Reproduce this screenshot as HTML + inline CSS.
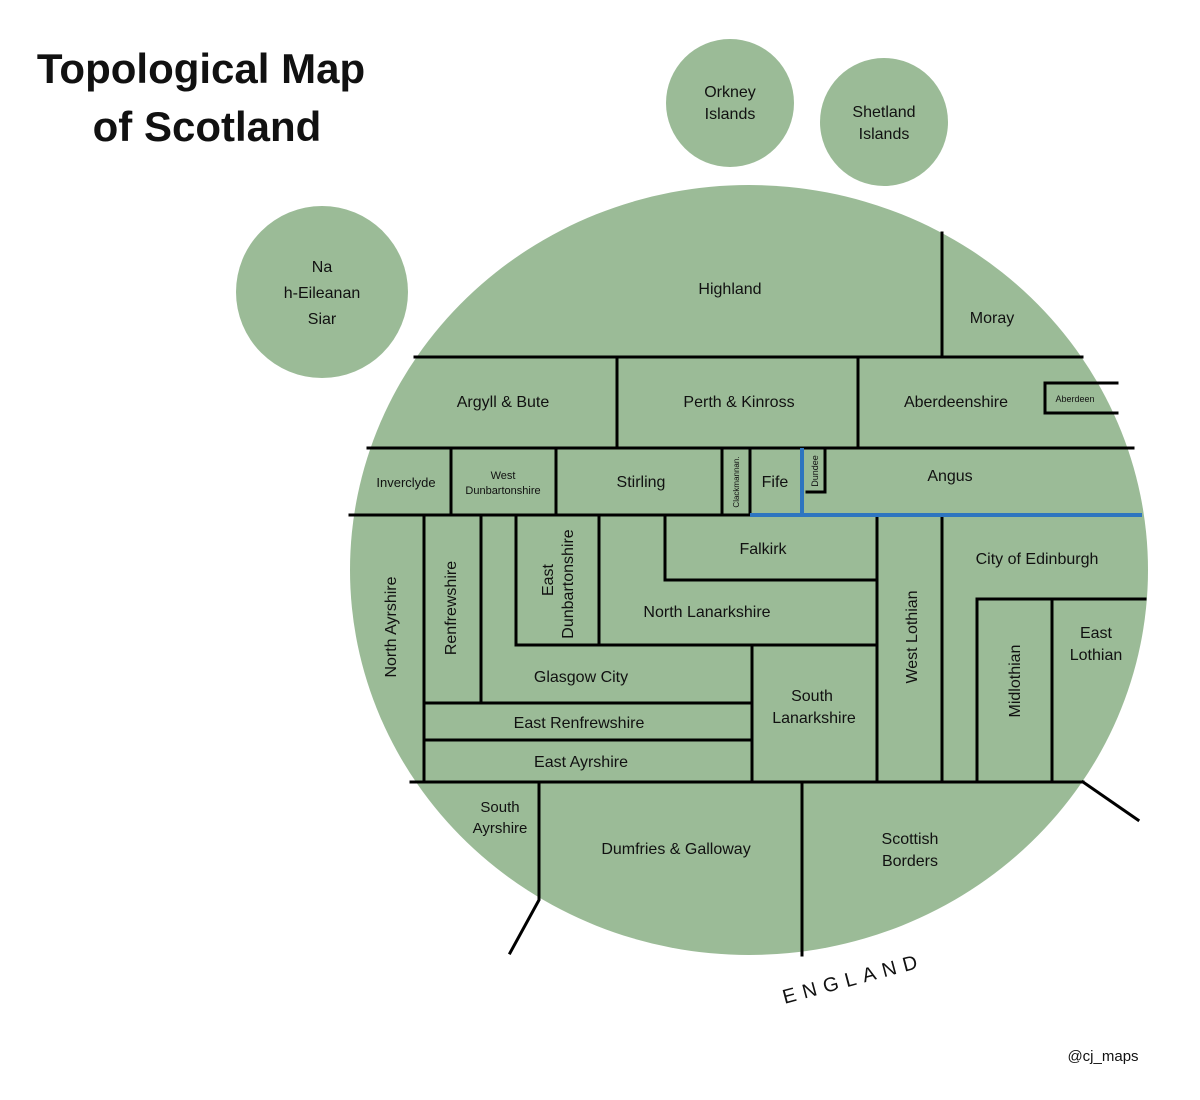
<!DOCTYPE html>
<html><head><meta charset="utf-8"><style>
html,body{margin:0;padding:0;background:#fff;}
svg{display:block;}
text{font-family:"Liberation Sans",sans-serif;fill:#111;}
</style></head><body>
<svg width="1200" height="1100" viewBox="0 0 1200 1100" xmlns="http://www.w3.org/2000/svg">
<text x="201" y="83" font-size="42" font-weight="bold" text-anchor="middle">Topological Map</text>
<text x="207" y="141" font-size="42" font-weight="bold" text-anchor="middle">of Scotland</text>

<g fill="#9bbb97">
<ellipse cx="749" cy="570" rx="399" ry="385"/>
<circle cx="322" cy="292" r="86"/>
<circle cx="730" cy="103" r="64"/>
<circle cx="884" cy="122" r="64"/>
</g>

<g stroke="#000" stroke-width="3" fill="none" stroke-linecap="square">
<line x1="415" y1="357" x2="1082" y2="357"/>
<line x1="942" y1="233" x2="942" y2="357"/>
<line x1="368" y1="448" x2="1133" y2="448"/>
<line x1="617" y1="357" x2="617" y2="448"/>
<line x1="858" y1="357" x2="858" y2="448"/>
<polyline points="1117,383 1045,383 1045,413 1117,413"/>
<line x1="350" y1="515" x2="750" y2="515"/>
<line x1="451" y1="448" x2="451" y2="515"/>
<line x1="556" y1="448" x2="556" y2="515"/>
<line x1="722" y1="448" x2="722" y2="515"/>
<line x1="750" y1="448" x2="750" y2="515"/>
<polyline points="807,492 825,492 825,450"/>
<line x1="424" y1="515" x2="424" y2="782"/>
<line x1="481" y1="515" x2="481" y2="703"/>
<polyline points="516,515 516,645 599,645 599,515"/>
<polyline points="665,515 665,580 877,580"/>
<line x1="877" y1="515" x2="877" y2="782"/>
<line x1="599" y1="645" x2="877" y2="645"/>
<line x1="752" y1="645" x2="752" y2="782"/>
<line x1="424" y1="703" x2="752" y2="703"/>
<line x1="424" y1="740" x2="752" y2="740"/>
<line x1="942" y1="515" x2="942" y2="782"/>
<polyline points="977,782 977,599 1145,599"/>
<line x1="1052" y1="599" x2="1052" y2="782"/>
<line x1="411" y1="782" x2="1083" y2="782"/>
<line x1="1083" y1="782" x2="1138" y2="820"/>
<polyline points="539,782 539,900 510,953"/>
<line x1="802" y1="782" x2="802" y2="955"/>
</g>
<g stroke="#2e75c0" stroke-width="4" fill="none">
<line x1="750" y1="515" x2="1142" y2="515"/>
<line x1="802" y1="448" x2="802" y2="515"/>
</g>

<g font-size="16" text-anchor="middle">
<text x="322" y="272">Na</text>
<text x="322" y="298">h-Eileanan</text>
<text x="322" y="324">Siar</text>
<text x="730" y="97">Orkney</text>
<text x="730" y="119">Islands</text>
<text x="884" y="117">Shetland</text>
<text x="884" y="139">Islands</text>
<text x="730" y="294">Highland</text>
<text x="992" y="323">Moray</text>
<text x="503" y="407">Argyll &amp; Bute</text>
<text x="739" y="407">Perth &amp; Kinross</text>
<text x="956" y="407">Aberdeenshire</text>
<text x="1075" y="402" font-size="9">Aberdeen</text>
<text x="406" y="487" font-size="13">Inverclyde</text>
<text x="503" y="479" font-size="11">West</text>
<text x="503" y="494" font-size="11">Dunbartonshire</text>
<text x="641" y="487">Stirling</text>
<text x="775" y="487">Fife</text>
<text x="950" y="481">Angus</text>
<text x="763" y="554">Falkirk</text>
<text x="707" y="617">North Lanarkshire</text>
<text x="1037" y="564">City of Edinburgh</text>
<text x="1096" y="638">East</text>
<text x="1096" y="660">Lothian</text>
<text x="581" y="682">Glasgow City</text>
<text x="579" y="728">East Renfrewshire</text>
<text x="581" y="767">East Ayrshire</text>
<text x="812" y="701">South</text>
<text x="814" y="723">Lanarkshire</text>
<text x="500" y="812" font-size="15">South</text>
<text x="500" y="833" font-size="15">Ayrshire</text>
<text x="676" y="854">Dumfries &amp; Galloway</text>
<text x="910" y="844">Scottish</text>
<text x="910" y="866">Borders</text>
<text x="396" y="627" transform="rotate(-90 396 627)">North Ayrshire</text>
<text x="456" y="608" transform="rotate(-90 456 608)">Renfrewshire</text>
<text x="553" y="580" transform="rotate(-90 553 580)">East</text>
<text x="573" y="584" transform="rotate(-90 573 584)">Dunbartonshire</text>
<text x="917" y="637" transform="rotate(-90 917 637)">West Lothian</text>
<text x="1020" y="681" transform="rotate(-90 1020 681)">Midlothian</text>
<text x="739" y="482" font-size="8" transform="rotate(-90 739 482)">Clackmannan.</text>
<text x="818" y="471" font-size="9" transform="rotate(-90 818 471)">Dundee</text>
<text x="855" y="985" font-size="20" letter-spacing="7" transform="rotate(-15 855 985)">ENGLAND</text>
<text x="1103" y="1061" font-size="15">@cj_maps</text>
</g>
</svg>
</body></html>
